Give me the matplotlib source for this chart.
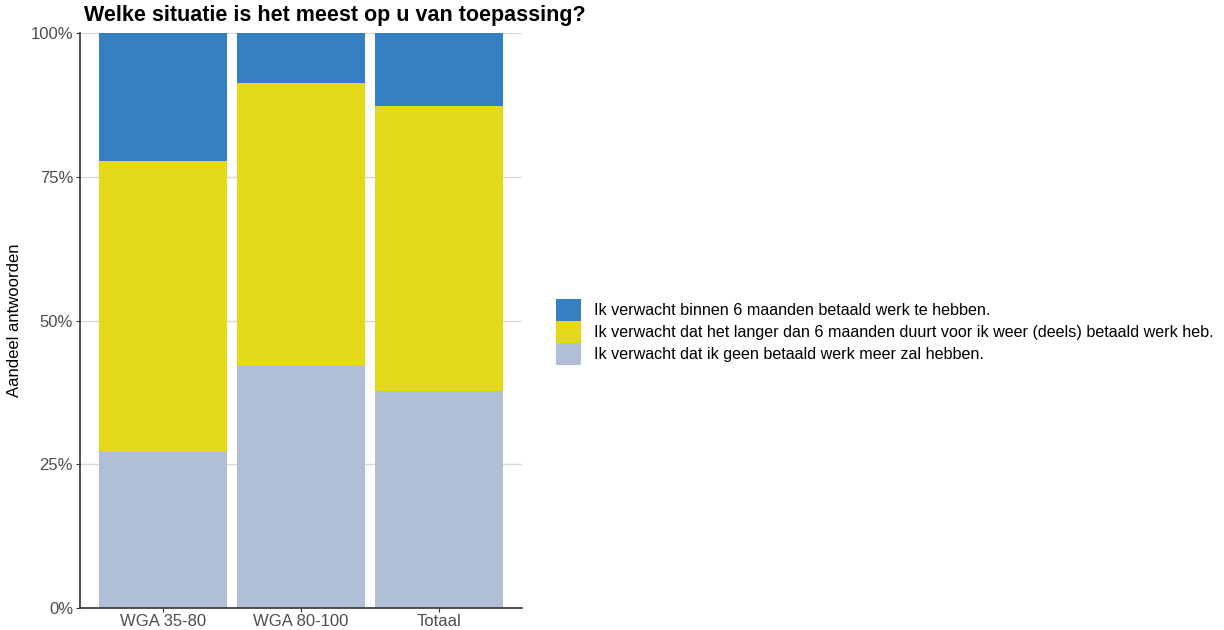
import matplotlib
matplotlib.use("Agg")
import matplotlib.pyplot as plt
from matplotlib.patches import Patch
from matplotlib.ticker import PercentFormatter

plt.rcParams['font.family'] = ['Liberation Sans', 'DejaVu Sans']

categories = ["WGA 35-80", "WGA 80-100", "Totaal"]
series_labels = [
    "Ik verwacht binnen 6 maanden betaald werk te hebben.",
    "Ik verwacht dat het langer dan 6 maanden duurt voor ik weer (deels) betaald werk heb.",
    "Ik verwacht dat ik geen betaald werk meer zal hebben.",
]
binnen6 = [22.3, 8.7, 12.7]
langer6 = [50.6, 49.2, 49.6]
geen = [27.1, 42.1, 37.7]
colors = ["#3480C3", "#E3D918", "#B1BFD6"]
yticks = [0, 25, 50, 75, 100]

fig = plt.figure(figsize=(12.24, 6.3), dpi=100)
ax = fig.add_axes([0.0654, 0.0349, 0.3611, 0.9127])

x = list(range(1, len(categories) + 1))
w = 0.93
ax.bar(x, geen, width=w, color=colors[2], zorder=2)
ax.bar(x, langer6, width=w, bottom=geen, color=colors[1], zorder=2)
bottom2 = [a + b for a, b in zip(geen, langer6)]
ax.bar(x, binnen6, width=w, bottom=bottom2, color=colors[0], zorder=2)

ax.set_xlim(0.4, 3.6)
ax.set_ylim(0, 100)
ax.set_xticks(x)
ax.set_xticklabels(categories, fontsize=12, color="#4d4d4d")
ax.set_yticks(yticks)
ax.yaxis.set_major_formatter(PercentFormatter(decimals=0))
ax.tick_params(axis='y', labelsize=12, labelcolor="#4d4d4d", length=3, color="#333333", pad=2)
ax.tick_params(axis='x', length=3, color="#333333", pad=1)
ax.grid(axis='y', color="#d9d9d9", linewidth=1, zorder=0)
for s in ["top", "right"]:
    ax.spines[s].set_visible(False)
for s in ["left", "bottom"]:
    ax.spines[s].set_color("#333333")
    ax.spines[s].set_linewidth(1.2)

ax.set_ylabel("Aandeel antwoorden", fontsize=12, labelpad=6)
fig.text(84 / 1224, 1 - 16 / 630, "Welke situatie is het meest op u van toepassing?",
         fontsize=15.5, fontweight='bold', ha='left', va='center')

handles = [Patch(facecolor=c) for c in colors]
fig.legend(handles, series_labels, loc='center left', bbox_to_anchor=(541 / 1224, 1 - 332 / 630),
           frameon=False, fontsize=11.6, handlelength=1.6, handleheight=1.65,
           labelspacing=0.05, handletextpad=0.8)

fig.savefig("out.png", dpi=100)
